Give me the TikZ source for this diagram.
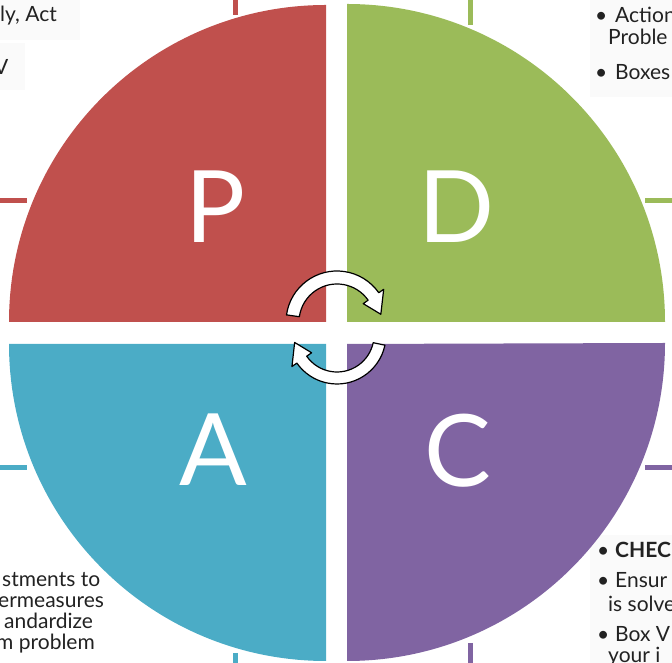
\documentclass[tikz,border=0pt]{standalone}
\usepackage{fontspec}
\setmainfont{Lato}
\definecolor{pred}{HTML}{C0504D}
\definecolor{pgreen}{HTML}{9BBB59}
\definecolor{pblue}{HTML}{4BACC6}
\definecolor{ppurple}{HTML}{8064A2}
\definecolor{shadegray}{HTML}{FAFAFA}
\definecolor{txt}{HTML}{222222}
\begin{document}
\begin{tikzpicture}[x=1pt,y=1pt,
  tick/.style={line width=5pt},
  side/.style={font=\fontsize{21}{24}\selectfont, text=txt, inner sep=0pt, anchor=base west},
  big/.style={font=\fontsize{100}{100}\selectfont, text=white, inner sep=0pt},
  cyc/.style={draw=black, line width=1.2pt, fill=white, line join=round},
  shadebox/.style={fill=shadegray, draw=none}]
\useasboundingbox (0,0) rectangle (672,663);
\clip (0,0) rectangle (672,663);
% faint text boxes
\fill[shadebox] (0,663) rectangle (80,623);
\fill[shadebox] (0,620) rectangle (25,573);
\fill[shadebox] (590,663) rectangle (672,566);
\fill[shadebox] (590,128) rectangle (672,0);
% ticks
\draw[tick,pred] (235,663) -- (235,648);
\draw[tick,pgreen] (470,663) -- (470,638);
\draw[tick,pblue] (235,10) -- (235,0);
\draw[tick,ppurple] (470,20) -- (470,0);
\draw[tick,pred] (0,462) -- (27,462);
\draw[tick,pblue] (0,195) -- (27,195);
\draw[tick,pgreen] (645,462) -- (672,462);
\draw[tick,ppurple] (645,195) -- (672,195);
% quadrants
\fill[pred] (326,341) -- ++(0,317) arc[start angle=90,end angle=180,radius=317] -- cycle;
\fill[pgreen] (347,341) -- ++(318,0) arc[start angle=0,end angle=90,radius=318] -- cycle;
\fill[pblue] (326,319) -- ++(-317,0) arc[start angle=180,end angle=270,radius=317] -- cycle;
\fill[ppurple] (347,319) -- ++(0,-317) arc[start angle=270,end angle=360,radius=318] -- cycle;
% letters
\node[big] (P) at (216,456) {P};
\node[big] (D) at (457,456) {D};
\node[big] (A) at (213,213) {A};
\node[big] (C) at (458,212) {C};
% cycle arrows
\begin{scope}[shift={(337,341)}]
\draw[cyc] (172:51) arc[start angle=172,end angle=35,radius=51] -- (35:57) -- (10:44.5) -- (35:32) -- (35:38) arc[start angle=35,end angle=172,radius=38] -- cycle;
\end{scope}
\begin{scope}[shift={(337,328)}]
\draw[cyc] (-12:49) arc[start angle=-12,end angle=-145,radius=49] -- (-145:55) -- (-170:43) -- (-145:31) -- (-145:37) arc[start angle=-145,end angle=-12,radius=37] -- cycle;
\end{scope}
% side texts
\node[side] (tl1) at (0,641) {ly, Act};
\node[side] (tl2) at (-6,588) {V};
\node[side] (tr1) at (595,640) {\makebox[20pt][l]{•}Action};
\node[side] (tr2) at (608,618) {Proble};
\node[side] (tr3) at (595,583) {\makebox[20pt][l]{•}Boxes};
\node[side] (br1) at (597,105) {\makebox[18pt][l]{•}\textbf{CHEC}};
\node[side] (br2) at (597,75) {\makebox[18pt][l]{•}Ensur};
\node[side] (br3) at (608,51) {is solve};
\node[side] (br4) at (597,21) {\makebox[18pt][l]{•}Box V};
\node[side] (br5) at (608,0) {your i};
\node[side] (bl1) at (2,76) {stments to};
\node[side] (bl2) at (-2,55) {ermeasures};
\node[side] (bl3) at (4,34) {andardize};
\node[side] (bl4) at (-4,13) {m problem};
\end{tikzpicture}
\end{document}
